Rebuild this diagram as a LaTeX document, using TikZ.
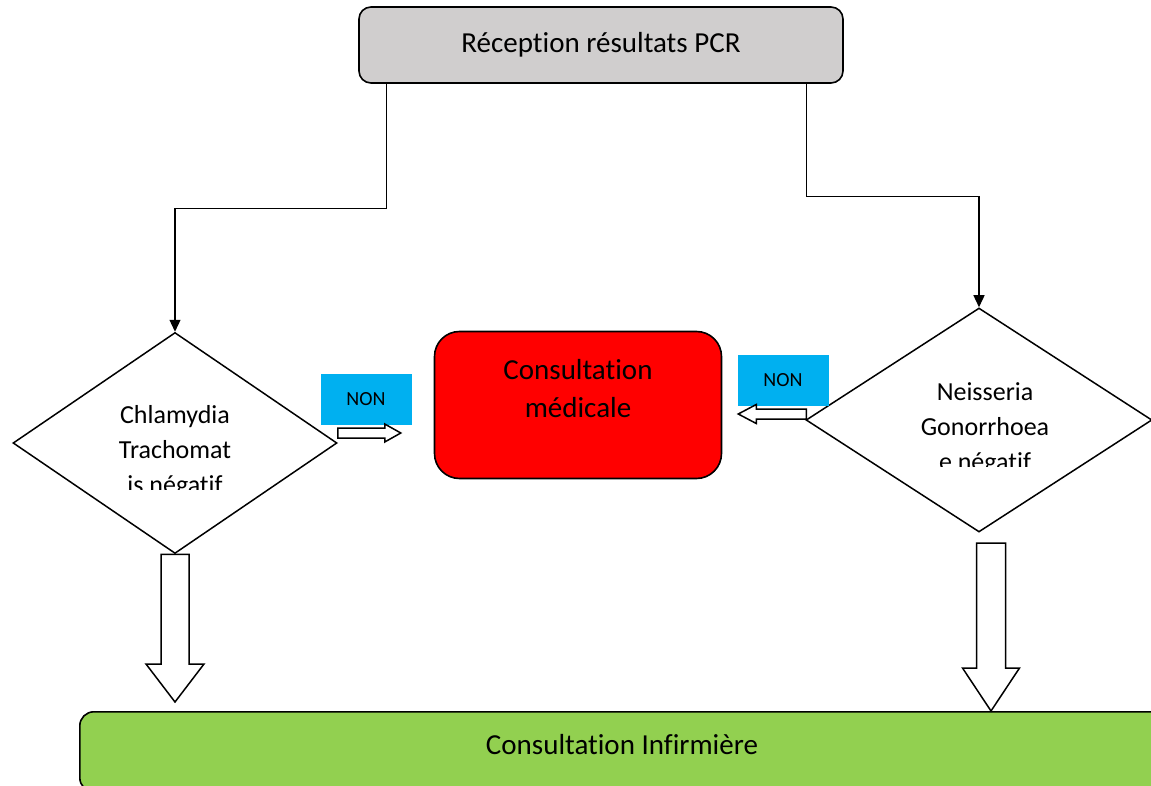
\documentclass[tikz,border=0pt]{standalone}
\usepackage{fontspec}
\setmainfont{Carlito}[Ligatures=NoCommon]
\usepackage{tikz}
\usetikzlibrary{calc,shapes,arrows.meta,positioning}
\usepackage{xcolor,color}

\definecolor{boxgray}{HTML}{D0CECE}
\definecolor{nongreen}{HTML}{92D050}
\definecolor{noncyan}{HTML}{00B0F0}

\tikzset{
	flow/.style={line width=1.3pt,-{Triangle[length=12pt,width=11pt]}},
	rbox/.style={draw,line width=1.6pt,rounded corners=#1,inner sep=0pt},
	decision/.style={diamond,draw,line width=1.5pt,inner sep=0pt},
	nonbox/.style={fill=noncyan,minimum width=91pt,minimum height=51pt,inner sep=0pt,font=\fontsize{20}{24}\selectfont},
	hollow/.style={draw,fill=white,line width=1.5pt,line join=miter},
	bigtxt/.style={font=\fontsize{29}{38}\selectfont,align=center},
	qtxt/.style={font=\fontsize{26}{35}\selectfont,align=center}
}

% block arrow: from, to, shaft half width, head half width, head length
\newcommand{\blockarrow}[5]{%
	\coordinate (ba-h) at ($(#2)!#5!(#1)$);
	\draw[hollow] ($(#1)!#3!90:(#2)$) -- ($(ba-h)!#3!-90:(#1)$) -- ($(ba-h)!#4!-90:(#1)$) -- (#2)
	-- ($(ba-h)!#4!90:(#1)$) -- ($(ba-h)!#3!90:(#1)$) -- ($(#1)!#3!-90:(#2)$) -- cycle;
}

\begin{document}
\begin{tikzpicture}[x=1pt,y=-1pt]
	\clip (0,0) rectangle (1151,786);
	
	% boxes
	\node[rbox=12pt,fill=boxgray,minimum width=484pt,minimum height=76pt,bigtxt] (pcr) at (601,45) {Réception résultats PCR};
	\node[rbox=25pt,fill=red,minimum width=287pt,minimum height=147pt] (med) at (578,405) {};
	\node[bigtxt] (medtxt) at ([yshift=16pt]med.center) {Consultation\\médicale};
	\node[rbox=14pt,fill=nongreen,minimum width=1150pt,minimum height=80pt,anchor=north west] (infi) at (79,711) {};
	\node[bigtxt] (infitxt) at (622,745) {Consultation Infirmière};
	
	% decisions
	\node[decision,minimum width=324pt,minimum height=221pt] (chla) at (175,443) {};
	\node[decision,minimum width=346pt,minimum height=224pt] (neis) at (979,420) {};
	\begin{scope}
		\clip (0,0) rectangle (1151,489);
		\node[qtxt] (chlatxt) at (175,452) {Chlamydia\\Trachomat\\is négatif};
	\end{scope}
	\begin{scope}
		\clip (0,0) rectangle (1151,466);
		\node[qtxt] (neistxt) at (985,429) {Neisseria\\Gonorrhoea\\e négatif};
	\end{scope}
	
	\node[nonbox] (non1) at (366,399) {NON};
	\node[nonbox] (non2) at (783,380) {NON};
	
	% connectors
	\draw[flow] ([xshift=28pt]pcr.south west) -- ++(0,125) -| (chla.north);
	\draw[flow] ([xshift=-37pt]pcr.south east) -- ++(0,113) -| (neis.north);
	
	\blockarrow{$(chla.east)+(0,-10)$}{$(chla.east)+(63,-10)$}{5pt}{9pt}{16pt}
	\blockarrow{$(neis.west)+(1,-6)$}{$(neis.west)+(-67,-6)$}{5pt}{9.5pt}{18pt}
	\blockarrow{chla.south}{$(chla.south |- infi.north)+(0,-9)$}{14pt}{29pt}{38pt}
	\coordinate (nend) at (991,543);
	\blockarrow{nend}{nend |- infi.north}{14.5pt}{28.5pt}{43pt}
\end{tikzpicture}
\end{document}
